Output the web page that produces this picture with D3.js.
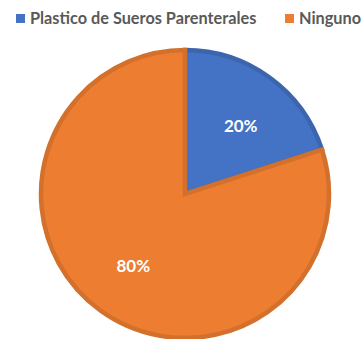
<!DOCTYPE html>
<html>
<head>
<meta charset="utf-8">
<script src="https://cdn.jsdelivr.net/npm/d3@7"></script>
<style>
  html, body { margin: 0; padding: 0; background: #fff; }
  svg { display: block; }
</style>
</head>
<body>
<svg id="chart" width="362" height="339"></svg>
<script>
// Share of responses by category
const categories = ["Plastico de Sueros Parenterales", "Ninguno"];
const values = [20, 80];
const fills = ["#4472C4", "#ED7D31"];
const strokes = ["#3C65AE", "#D2702C"];

const svg = d3.select("#chart");
const cx = 185, cy = 194, radius = 144;

const pie = d3.pie().sort(null).value(d => d)(values);
const arc = d3.arc().innerRadius(0).outerRadius(radius);
const labelArc = d3.arc().innerRadius(88).outerRadius(88);

const g = svg.append("g").attr("transform", `translate(${cx},${cy})`);

g.selectAll("path.slice")
  .data(pie)
  .join("path")
  .attr("class", "slice")
  .attr("d", arc)
  .attr("fill", (d, i) => fills[i])
  .attr("stroke", (d, i) => strokes[i])
  .attr("stroke-width", 4.5)
  .attr("stroke-linejoin", "miter");

// Percent labels, the small slice's label sits a touch further out
const labelNudge = [[4, 3], [0, 0]];
const total = d3.sum(values);
g.selectAll("text.pct")
  .data(pie)
  .join("text")
  .attr("class", "pct")
  .attr("transform", (d, i) => {
    const [x, y] = labelArc.centroid(d);
    return `translate(${x + labelNudge[i][0]},${y + labelNudge[i][1]})`;
  })
  .attr("text-anchor", "middle")
  .attr("dominant-baseline", "central")
  .attr("font-family", "Lato, 'Open Sans', sans-serif")
  .attr("font-weight", 700)
  .attr("font-size", 17)
  .attr("fill", "#ffffff")
  .text(d => Math.round(d.value / total * 100) + "%");

// Legend
const legendX = [16, 285];
const legend = svg.append("g");
categories.forEach((c, i) => {
  legend.append("rect")
    .attr("x", legendX[i]).attr("y", 14)
    .attr("width", 9).attr("height", 9)
    .attr("fill", fills[i]);
  legend.append("text")
    .attr("x", legendX[i] + 14).attr("y", 24)
    .attr("font-family", "Lato, 'Open Sans', sans-serif")
    .attr("font-weight", 700)
    .attr("font-size", 16.3)
    .attr("fill", "#595959")
    .text(c);
});
</script>
</body>
</html>
